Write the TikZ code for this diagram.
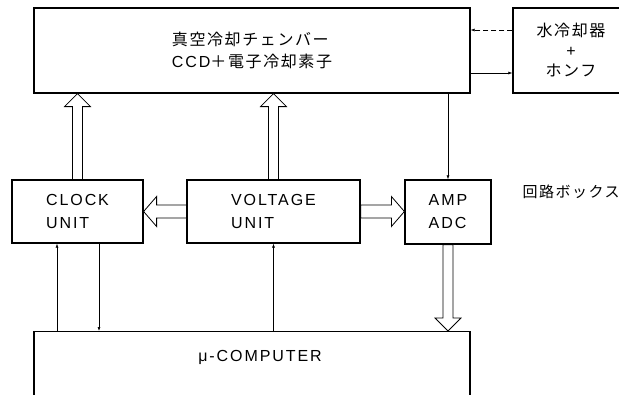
\documentclass[tikz,border=0pt]{standalone}
\usepackage{fontspec}
\setmainfont{Liberation Sans}[LetterSpace=12]
\newfontfamily\jp{Noto Sans CJK JP}[LetterSpace=10]
\usetikzlibrary{arrows.meta,calc}

\tikzset{
  box/.style={draw, line width=1.2pt, inner sep=0pt, align=left},
  thinarr/.style={line width=0.6pt, -{Latex[length=4pt,width=3pt]}},
  fat/.style={draw, line width=0.8pt, fill=white, line join=miter},
}
% hollow block arrows, #3 = 1 (up/right) or -1 (down/left)
\newcommand\fatv[3]{%
  \draw[fat] let \p1=(#1), \p2=(#2) in
    ({\x1-5pt},{\y1}) -- ({\x1-5pt},{\y2-(#3)*13pt}) -- ({\x1-13pt},{\y2-(#3)*13pt}) -- ({\x1},{\y2})
    -- ({\x1+13pt},{\y2-(#3)*13pt}) -- ({\x1+5pt},{\y2-(#3)*13pt}) -- ({\x1+5pt},{\y1}) -- cycle;}
\newcommand\fath[3]{%
  \draw[fat] let \p1=(#1), \p2=(#2) in
    ({\x1},{\y1+6.5pt}) -- ({\x2-(#3)*13pt},{\y1+6.5pt}) -- ({\x2-(#3)*13pt},{\y1+15pt}) -- ({\x2},{\y1})
    -- ({\x2-(#3)*13pt},{\y1-15pt}) -- ({\x2-(#3)*13pt},{\y1-6.5pt}) -- ({\x1},{\y1-6.5pt}) -- cycle;}

\begin{document}
\begin{tikzpicture}[x=1pt, y=-1pt, font=\fontsize{16}{23}\selectfont]
  \useasboundingbox (0,0) rectangle (619,394);

  \node[box, minimum width=436, minimum height=85, font=\fontsize{16}{22}\selectfont] (chamber) at (252,50.5)
    {{\jp 真空冷却チェンバー}\\CCD{\jp ＋電子冷却素子}};
  \node[box, align=center, minimum width=116, minimum height=85, font=\fontsize{16}{20}\selectfont] (water) at (571,50.5)
    {{\jp 水冷却器}\\+\\{\jp ホンフ}};

  \node[box, minimum width=131, minimum height=63] (clock) at (77.5,211.5) {CLOCK\\UNIT};
  \node[box, minimum width=173, minimum height=63] (voltage) at (273.5,211.5) {VOLTAGE\\UNIT};
  \node[box, minimum width=86, minimum height=64] (amp) at (448,212) {AMP\\ADC};
  \node[anchor=west, font=\fontsize{15}{18}\selectfont] (circuit) at (519,192) {\jp 回路ボックス};

  \node[box, minimum width=436, minimum height=90, anchor=north] (comp) at (252,331) {};
  \node[anchor=north] (comptext) at ([xshift=8pt,yshift=-16pt]comp.north) {μ-COMPUTER};

  \coordinate (wtop) at ([yshift=20.5pt]water.west);
  \coordinate (wbot) at ([yshift=-22.5pt]water.west);
  \draw[thinarr, dash pattern=on 5pt off 3pt] (wtop) -- (wtop -| chamber.east);
  \draw[thinarr] (wbot -| chamber.east) -- (wbot);
  \draw[thinarr] (amp.north |- chamber.south) -- (amp.north);

  \coordinate (clktop) at (clock.north |- chamber.south);
  \coordinate (volttop) at (voltage.north |- chamber.south);
  \coordinate (ampbot) at (amp.south |- comp.north);
  \fatv{clock.north}{clktop}{1}
  \fatv{voltage.north}{volttop}{1}
  \fath{voltage.west}{clock.east}{-1}
  \fath{voltage.east}{amp.west}{1}
  \fatv{amp.south}{ampbot}{-1}

  \coordinate (clkin) at ([xshift=-20.5pt]clock.south);
  \coordinate (clkout) at ([xshift=21.5pt]clock.south);
  \draw[thinarr] (clkin |- comp.north) -- (clkin);
  \draw[thinarr] (clkout) -- (clkout |- comp.north);
  \draw[thinarr] (voltage.south |- comp.north) -- (voltage.south);
\end{tikzpicture}
\end{document}
